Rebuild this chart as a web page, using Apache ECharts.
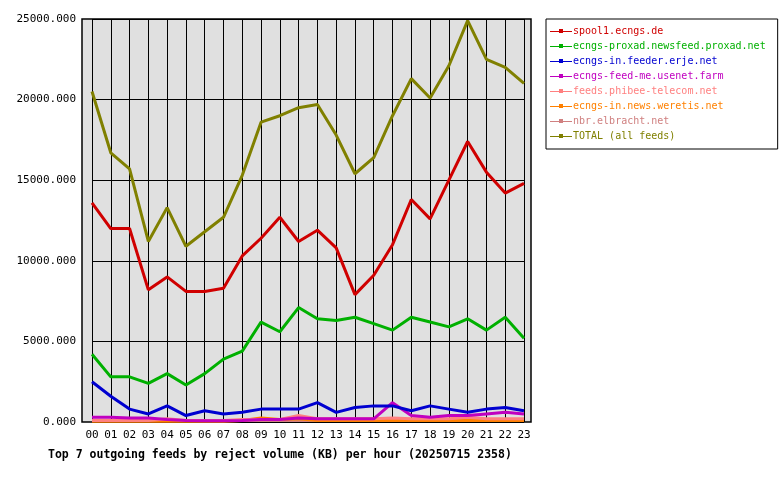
<!DOCTYPE html>
<html>
<head>
<meta charset="utf-8">
<script src="https://cdn.jsdelivr.net/npm/echarts@6/dist/echarts.min.js"></script>
</head>
<body style="margin:0;background:#fff">
<div id="main" style="width:780px;height:480px;"></div>
<script>
var hours = ['00','01','02','03','04','05','06','07','08','09','10','11','12','13','14','15','16','17','18','19','20','21','22','23'];
var yTicks = [0, 5000, 10000, 15000, 20000, 25000];
var names = ['spool1.ecngs.de','ecngs-proxad.newsfeed.proxad.net','ecngs-in.feeder.erje.net','ecngs-feed-me.usenet.farm','feeds.phibee-telecom.net','ecngs-in.news.weretis.net','nbr.elbracht.net','TOTAL (all feeds)'];
var colors = ['#d00000','#00b000','#0000d0','#c000c0','#ff8080','#ff8000','#d08080','#808000'];
var spool1 = [13600,12000,12000,8200,9000,8100,8100,8300,10300,11400,12700,11200,11900,10800,7900,9100,11000,13800,12600,15000,17400,15500,14200,14800];
var proxad = [4200,2800,2800,2400,3000,2300,3000,3900,4400,6200,5600,7100,6400,6300,6500,6100,5700,6500,6200,5900,6400,5700,6500,5200];
var erje = [2500,1600,800,500,1000,400,700,500,600,800,800,800,1200,600,900,1000,1000,700,1000,800,600,800,900,700];
var usenetFarm = [300,300,250,250,150,100,80,80,100,150,150,250,200,200,200,200,1200,400,300,400,400,500,600,500];
var phibee = [100,100,100,100,200,100,100,100,150,150,150,400,200,200,200,200,250,200,200,200,300,200,200,200];
var weretis = [50,50,50,50,50,50,50,50,100,250,150,200,100,100,100,100,100,100,100,100,100,100,100,100];
var elbracht = [100,100,100,100,100,100,100,100,100,100,100,100,100,100,100,100,100,100,100,100,100,100,100,100];
var total = [20500,16700,15700,11200,13300,10900,11800,12700,15300,18600,19000,19500,19700,17800,15400,16400,19000,21300,20100,22100,24900,22500,22000,21000];
var seriesData = [spool1, proxad, erje, usenetFarm, phibee, weretis, elbracht, total];

var font = 'DejaVu Sans Mono';
var myChart = echarts.init(document.getElementById('main'));
var option = {
    animation: false,
    textStyle: { fontFamily: font },
    graphic: [
        { type: 'rect', z: -10, shape: { x: 82, y: 19, width: 449, height: 403 },
          style: { fill: '#e0e0e0', stroke: '#000', lineWidth: 1.5 } }
    ],
    title: {
        text: 'Top 7 outgoing feeds by reject volume (KB) per hour (20250715 2358)',
        left: 43, top: 444,
        textStyle: { fontFamily: font, fontSize: 11.5, fontWeight: 'bold', color: '#000' }
    },
    legend: {
        orient: 'vertical', left: 546, top: 19,
        padding: [7, 12, 8, 4], itemGap: 5,
        borderColor: '#000', borderWidth: 1,
        itemWidth: 22, itemHeight: 10,
        icon: 'path://M0,4H22V5H0Z M9,2H13V6H9Z',
        data: names.map(function (n, i) { return { name: n, textStyle: { color: colors[i] } }; }),
        textStyle: { fontFamily: font, fontSize: 10, padding: [0, 0, 0, -4] }
    },
    grid: { left: 92, right: 256, top: 19, bottom: 58 },
    xAxis: {
        type: 'category', data: hours, boundaryGap: false,
        axisLine: { show: false }, axisTick: { show: false },
        axisLabel: { color: '#000', fontSize: 11, fontFamily: font, margin: 8 },
        splitLine: { show: true, lineStyle: { color: '#000', width: 1 } }
    },
    yAxis: {
        type: 'value', min: 0, max: 25000, interval: 5000,
        axisLine: { show: false }, axisTick: { show: false },
        axisLabel: { color: '#000', fontSize: 11, fontFamily: font, margin: 16,
            formatter: function (v) { return v.toFixed(3); } },
        splitLine: { show: true, lineStyle: { color: '#000', width: 1 } }
    },
    series: seriesData.map(function (d, i) {
        return { name: names[i], type: 'line', data: d, symbol: 'none',
            color: colors[i], lineStyle: { width: 3, color: colors[i] }, z: 10 - i };
    })
};
myChart.setOption(option);
</script>
</body>
</html>
